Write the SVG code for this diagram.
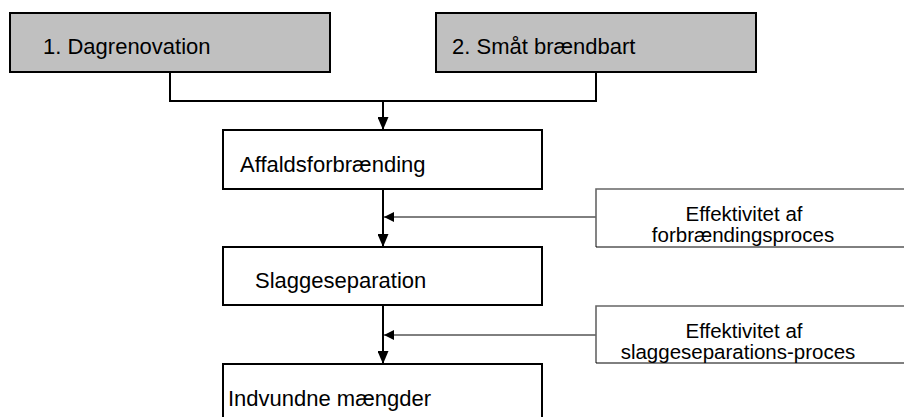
<svg xmlns="http://www.w3.org/2000/svg" width="904" height="417" viewBox="0 0 904 417">
<style>
.src rect{fill:#c0c0c0;stroke:#000;stroke-width:2}
.proc rect{fill:#fff;stroke:#000;stroke-width:2}
text{font-family:"Liberation Sans",Arial,sans-serif;font-size:22px;fill:#000}
.side text{font-size:20.5px;text-anchor:middle}
.side path{fill:none}
.side .t{stroke:#666;stroke-width:1.6}
.side .b{stroke:#000;stroke-width:1}
.conn path{fill:none;stroke:#000}
.main{stroke-width:2}
.thin{stroke-width:1}
</style>
<defs>
<marker id="ah" markerUnits="userSpaceOnUse" markerWidth="14" markerHeight="11" refX="13" refY="5.5" orient="auto">
<path d="M0,0 L13,5.5 L0,11 Z" fill="#000"/>
</marker>
<marker id="ahs" markerUnits="userSpaceOnUse" markerWidth="11" markerHeight="10" refX="10" refY="5" orient="auto">
<path d="M0,0 L10,5 L0,10 Z" fill="#000"/>
</marker>
</defs>
<rect width="904" height="417" fill="#fff"/>
<g class="conn">
<path class="main" d="M170,72 V101 H596 V72"/>
<path class="main" d="M383,101 V130" marker-end="url(#ah)"/>
<path class="main" d="M383,189 V247" marker-end="url(#ah)"/>
<path class="main" d="M383,305 V364" marker-end="url(#ah)"/>
<path class="thin" d="M596,217 H384" marker-end="url(#ahs)"/>
<path class="thin" d="M596,335 H384" marker-end="url(#ahs)"/>
</g>
<g id="n1" class="src"><rect x="10" y="13" width="320" height="59"/><text x="43" y="54">1. Dagrenovation</text></g>
<g id="n2" class="src"><rect x="436" y="13" width="320" height="59"/><text x="452" y="54">2. Småt brændbart</text></g>
<g id="n3" class="proc"><rect x="223" y="130" width="319" height="59"/><text x="240" y="172">Affaldsforbrænding</text></g>
<g id="n4" class="proc"><rect x="223" y="247" width="319" height="58"/><text x="255" y="288">Slaggeseparation</text></g>
<g id="n5" class="proc"><rect x="223" y="364" width="319" height="80"/><text x="228" y="406">Indvundne mængder</text></g>
<g id="s1" class="side">
<path class="t" d="M904,189 H596 V247"/><path class="b" d="M596,247 H904"/>
<text x="744" y="221">Effektivitet af</text>
<text x="743" y="242">forbrændingsproces</text>
</g>
<g id="s2" class="side">
<path class="t" d="M904,306 H596 V363"/><path class="b" d="M596,363 H904"/>
<text x="744" y="338">Effektivitet af</text>
<text x="738" y="359">slaggeseparations-proces</text>
</g>
</svg>
